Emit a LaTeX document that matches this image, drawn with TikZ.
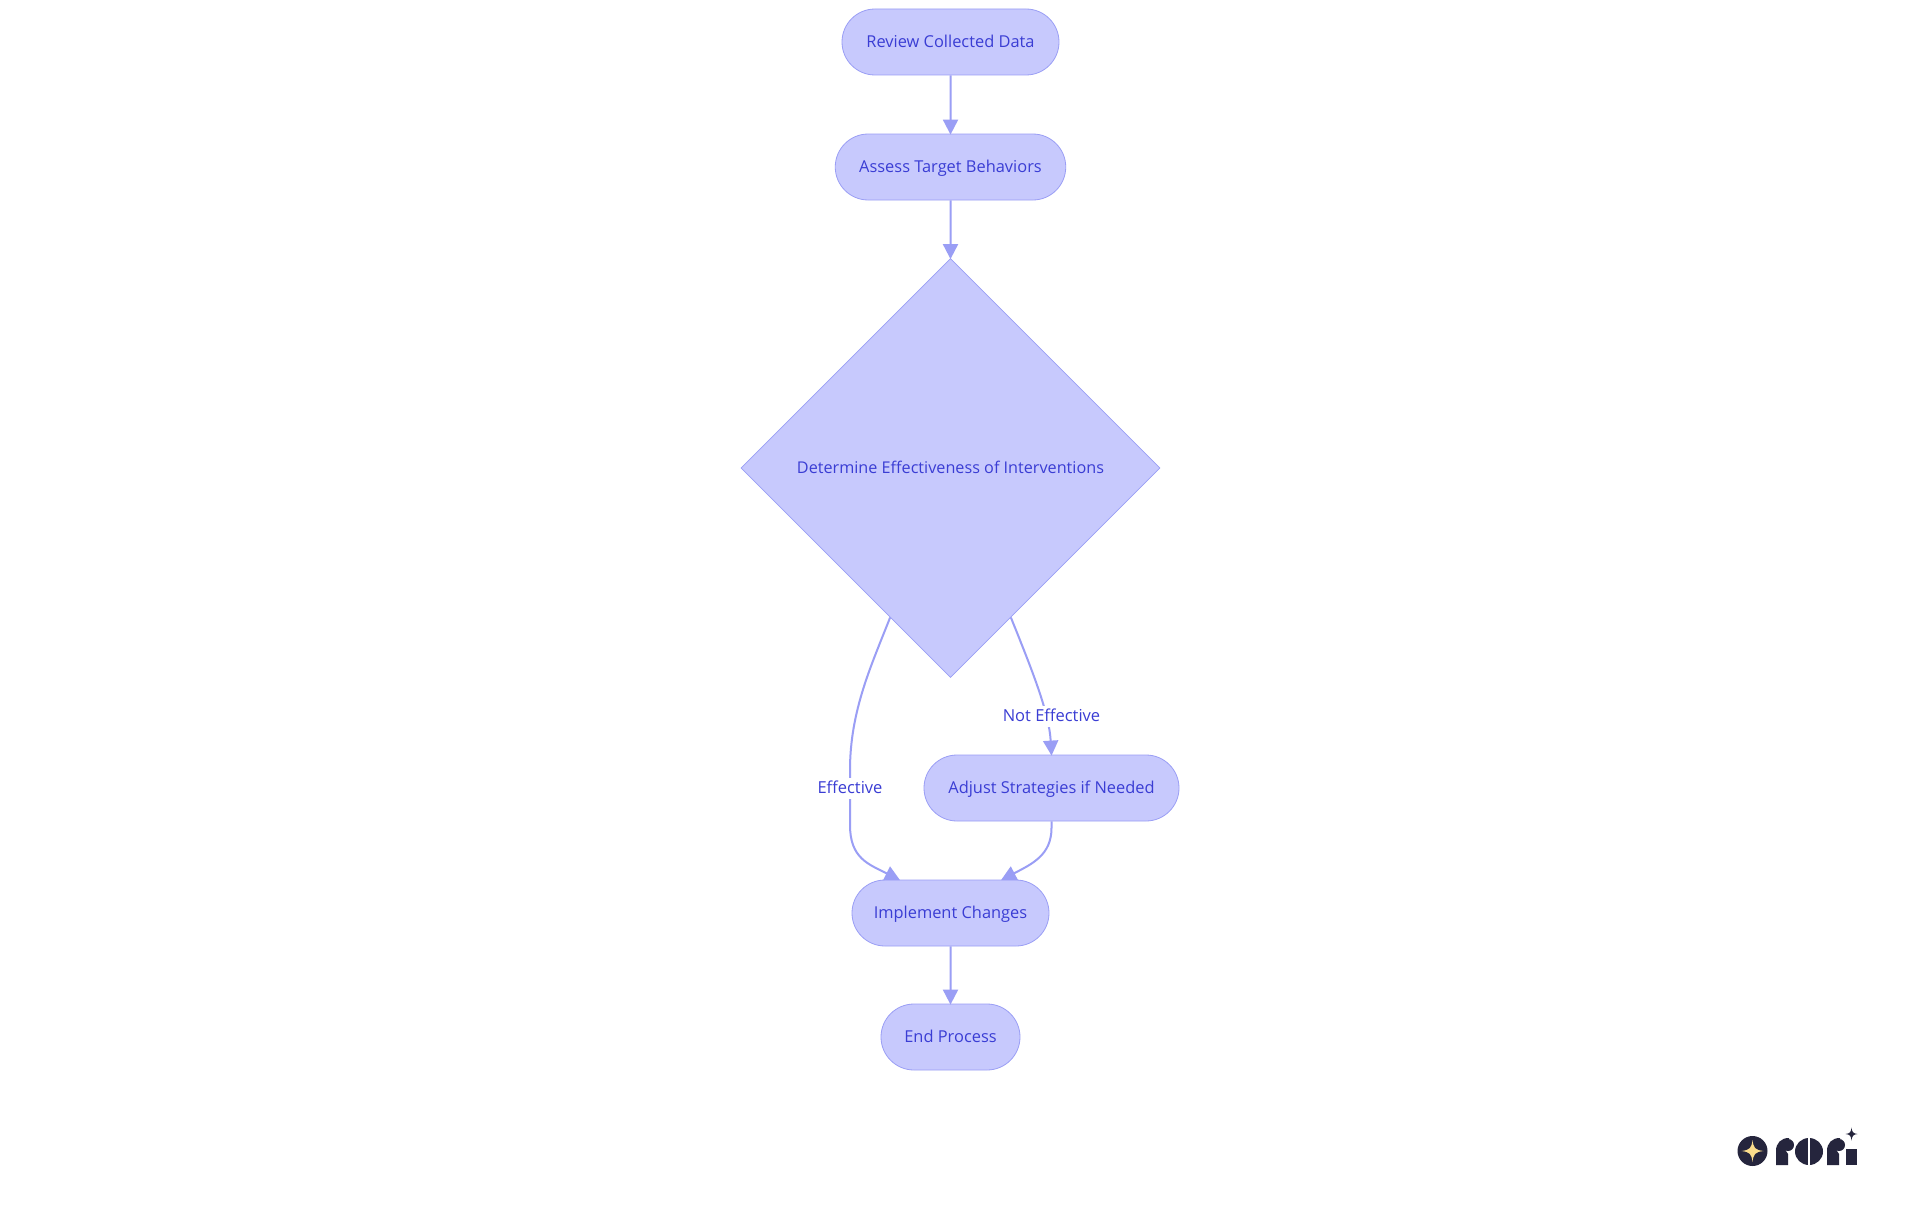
\documentclass[tikz,border=0pt]{standalone}
\usepackage{fontspec}
\setmainfont{Open Sans}
\usetikzlibrary{arrows.meta,shapes.geometric,shapes.misc}
\definecolor{nodefill}{HTML}{C7C9FD}
\definecolor{nodeline}{HTML}{9A9EF5}
\definecolor{nodetext}{HTML}{3A3DD4}
\definecolor{logodark}{HTML}{25253D}
\definecolor{logostar}{HTML}{FBDD8C}
\tikzset{
  pill/.style={rounded rectangle,draw=nodeline,fill=nodefill,text=nodetext,line width=0.8pt,
    minimum height=66pt,font=\fontsize{16.4}{19}\selectfont,inner sep=0pt,text height=12pt,text depth=1.5pt},
  decide/.style={diamond,draw=nodeline,fill=nodefill,text=nodetext,line width=0.8pt,
    minimum width=419pt,minimum height=419pt,inner sep=0pt,font=\fontsize{16.2}{19}\selectfont,
    text height=12pt,text depth=2pt},
  flow/.style={draw=nodeline,line width=2pt,shorten >=-1pt,-{Triangle[length=15pt,width=15pt,fill=nodeline]}},
  flowlabel/.style={fill=white,text=nodetext,inner sep=0pt,font=\fontsize{16.5}{19}\selectfont,
    text height=15.5pt,text depth=5.5pt},
  logo/.style={fill=logodark,draw=none},
}
\begin{document}
\begin{tikzpicture}[x=1pt,y=-1pt]
   \useasboundingbox (0,0) rectangle (1920,1215);
   \fill[white] (0,0) rectangle (1920,1215);
   \node[pill,minimum width=217pt] (review) at (950.5,42) {Review Collected Data};
   \node[pill,minimum width=230.5pt] (assess) at (950.5,167) {Assess Target Behaviors};
   \node[decide] (check) at (950.5,468) {Determine Effectiveness of Interventions};
   \node[pill,minimum width=255pt] (adjust) at (1051.5,788) {Adjust Strategies if Needed};
   \node[pill,minimum width=197pt] (implement) at (950.5,913) {Implement Changes};
   \node[pill,minimum width=139pt] (finish) at (950.5,1037) {End Process};
   \coordinate (efftop) at (850,770);
   \draw[flow] (review) -- (assess);
   \draw[flow] (assess) -- (check.north);
   \draw[draw=nodeline,line width=2pt] (check.248.2) .. controls (872,664) and (850,710) .. (efftop);
   \draw[flow] (efftop) -- (850,825) .. controls (850,858) and (868,864) .. (implement.147);
   \draw[flow] (check.292) .. controls (1032,670) and (1049,712) .. (adjust.north);
   \draw[flow] (adjust.south) -- (1051.5,828) .. controls (1051.5,855) and (1032,864) .. (implement.33);
   \draw[flow] (implement) -- (finish);
   \node[flowlabel] (efflabel) at (850,788) {Effective};
   \node[flowlabel] (notlabel) at (1051.5,716) {Not Effective};
   % logo
   \fill[logodark] (1752.5,1151) circle (15);
   \fill[logostar] (1752.5,1140) .. controls (1753.5,1148) and (1755,1150) .. (1763.5,1151)
     .. controls (1755,1152) and (1753.5,1154) .. (1752.5,1162)
     .. controls (1751.5,1154) and (1750,1152) .. (1741.5,1151)
     .. controls (1750,1150) and (1751.5,1148) .. (1752.5,1140) -- cycle;
   \fill[logo] (1776,1165) -- (1776,1151) .. controls (1776,1143) and (1781,1138) .. (1789,1138)
     -- (1789,1142) .. controls (1784,1143) and (1784,1150) .. (1788,1154) -- (1788,1165) -- cycle;
   \fill[logo] (1788,1145) circle (6);
   \fill[logo] (1809,1151.5) ellipse (14 and 13.5);
   \fill[white] (1808.3,1138) rectangle (1809.7,1165);
   \fill[logo] (1827,1165) -- (1827,1151) .. controls (1827,1143) and (1832,1138) .. (1840,1138)
     -- (1840,1142) .. controls (1835,1143) and (1835,1150) .. (1839,1154) -- (1839,1165) -- cycle;
   \fill[logo] (1839,1145) circle (6);
   \fill[logo] (1846,1149) rectangle (1857,1165);
   \fill[logo] (1851.5,1127.5) .. controls (1852,1132) and (1853,1133.5) .. (1857.5,1134)
     .. controls (1853,1134.5) and (1852,1136) .. (1851.5,1140.5)
     .. controls (1851,1136) and (1850,1134.5) .. (1845.5,1134)
     .. controls (1850,1133.5) and (1851,1132) .. (1851.5,1127.5) -- cycle;
\end{tikzpicture}
\end{document}
